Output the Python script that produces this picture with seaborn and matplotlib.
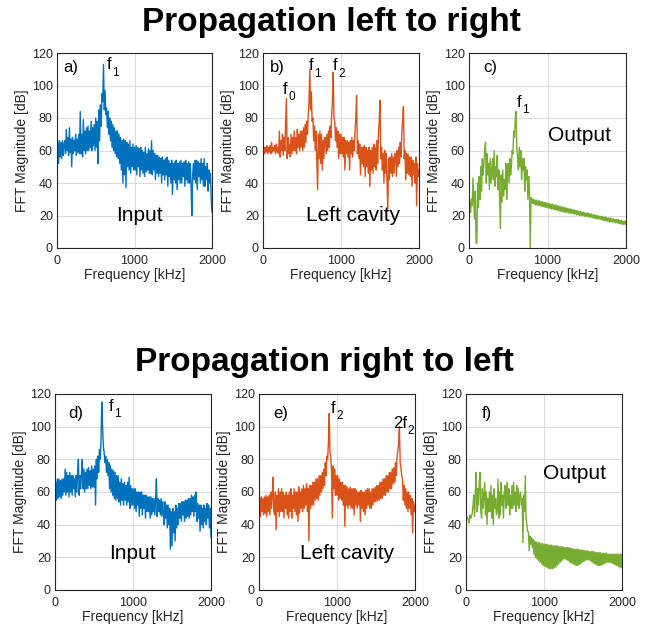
import numpy as np
import seaborn as sns
import matplotlib.pyplot as plt

# frequency grid, 10 kHz steps from 0 to 2000 kHz
freq = np.arange(0, 2001, 10)

# FFT magnitudes [dB], one row per 100 kHz
input_lr = [
    43, 64, 52, 66, 56, 65, 55, 66, 57, 64,
    66, 58, 73, 60, 68, 57, 74, 59, 67, 50,
    68, 58, 66, 60, 70, 57, 67, 59, 70, 58,
    84, 58, 70, 56, 79, 60, 72, 58, 74, 60,
    75, 60, 72, 62, 78, 60, 74, 63, 76, 60,
    80, 62, 78, 52, 85, 66, 88, 75, 95, 90,
    113, 85, 97, 82, 86, 74, 84, 70, 80, 66,
    78, 62, 76, 60, 74, 58, 72, 56, 72, 55,
    70, 52, 68, 48, 66, 40, 67, 45, 66, 37,
    65, 50, 64, 48, 66, 46, 62, 50, 64, 48,
    62, 48, 63, 45, 62, 50, 61, 44, 62, 48,
    60, 46, 59, 44, 62, 47, 58, 48, 61, 46,
    60, 46, 66, 45, 60, 48, 58, 42, 57, 46,
    57, 44, 56, 46, 55, 40, 56, 45, 54, 42,
    55, 45, 56, 38, 54, 44, 52, 40, 54, 33,
    52, 42, 53, 40, 54, 36, 52, 42, 53, 40,
    54, 40, 52, 44, 53, 38, 54, 42, 52, 40,
    53, 40, 52, 38, 20, 44, 52, 42, 54, 40,
    54, 36, 53, 44, 52, 40, 55, 42, 52, 38,
    55, 38, 50, 42, 52, 35, 48, 40, 46, 30,
    22]
cavity_lr = [
    58, 62, 58, 62, 59, 63, 58, 62, 59, 63,
    58, 65, 59, 62, 60, 63, 58, 64, 59, 62,
    58, 72, 56, 66, 60, 70, 57, 68, 60, 75,
    92, 55, 68, 58, 64, 56, 70, 58, 68, 60,
    72, 60, 68, 58, 73, 62, 70, 60, 72, 62,
    72, 60, 74, 62, 76, 65, 78, 70, 82, 90,
    110, 85, 96, 78, 80, 66, 75, 60, 72, 55,
    36, 70, 55, 72, 52, 70, 48, 66, 55, 68,
    68, 58, 70, 60, 72, 62, 75, 68, 82, 90,
    108, 80, 78, 66, 74, 62, 72, 55, 70, 58,
    70, 58, 68, 56, 68, 48, 66, 58, 66, 56,
    65, 48, 66, 58, 68, 56, 66, 60, 72, 80,
    94, 58, 66, 55, 64, 45, 62, 52, 62, 50,
    63, 44, 62, 50, 60, 46, 62, 38, 60, 48,
    62, 46, 64, 50, 62, 48, 66, 52, 70, 78,
    91, 55, 62, 48, 58, 40, 60, 46, 58, 42,
    24, 55, 42, 56, 46, 58, 44, 56, 46, 58,
    58, 44, 60, 50, 62, 52, 65, 56, 72, 78,
    87, 55, 60, 42, 58, 46, 58, 45, 56, 44,
    56, 38, 54, 45, 52, 40, 56, 26, 52, 44,
    48]
output_lr = [
    24, 28, 22, 30, 26, 43, 30, 18, 35, 3,
    3, 40, 25, 44, 30, 50, 35, 55, 45, 52,
    60, 65, 40, 58, 45, 52, 36, 55, 40, 48,
    55, 42, 60, 38, 50, 44, 57, 36, 48, 30,
    12, 45, 28, 48, 32, 42, 36, 52, 30, 45,
    52, 40, 55, 45, 50, 60, 58, 72, 68, 80,
    84, 60, 55, 48, 62, 50, 60, 42, 55, 48,
    55, 35, 50, 42, 48, 30, 44, 36, 0, 31,
    30.5, 27.5, 30, 27, 29.5, 26.5, 29.5, 26.5, 29, 26,
    29, 26, 28.5, 25.5, 28.5, 25.5, 28, 25, 28, 25,
    27.5, 24.5, 27.5, 24.5, 27, 24, 27, 24, 26.5, 23.5,
    26.5, 23.5, 26, 23, 26, 23, 25.5, 22.5, 25.5, 22.5,
    25, 22, 25, 22, 24.5, 22, 24.5, 21.5, 24, 21.5,
    24, 21.5, 23.5, 21, 23.5, 21, 23, 20.5, 23, 20.5,
    22.5, 20, 22.5, 20, 22, 20, 22, 19.5, 21.5, 19.5,
    21.5, 19.5, 21.5, 19, 21, 19, 21, 18.5, 20.5, 18.5,
    20.5, 18, 20, 18, 20, 18, 19.5, 17.5, 19.5, 17.5,
    19.5, 17, 19, 17, 19, 16.5, 18.5, 16.5, 18.5, 16,
    18.5, 16, 18, 16, 18, 16, 17.5, 15.5, 17.5, 15.5,
    17.5, 15, 17, 15, 17, 14.5, 16.5, 14.5, 16.5, 14.5,
    16.5]
input_rl = [
    43, 66, 55, 68, 56, 68, 57, 67, 56, 68,
    58, 68, 60, 74, 58, 72, 60, 70, 57, 72,
    60, 70, 58, 70, 62, 68, 57, 70, 60, 72,
    80, 58, 70, 62, 72, 80, 62, 74, 60, 72,
    62, 74, 62, 75, 64, 73, 62, 76, 63, 74,
    63, 76, 52, 80, 68, 82, 72, 86, 80, 92,
    115, 100, 88, 84, 78, 82, 72, 80, 70, 78,
    62, 76, 60, 74, 58, 73, 56, 72, 55, 70,
    56, 70, 54, 66, 52, 68, 55, 65, 52, 66,
    55, 64, 52, 66, 54, 69, 50, 64, 52, 62,
    52, 62, 50, 62, 48, 60, 52, 60, 45, 60,
    50, 60, 46, 58, 50, 58, 44, 58, 48, 57,
    48, 57, 44, 57, 46, 56, 48, 56, 46, 55,
    68, 45, 56, 48, 55, 46, 56, 45, 54, 48,
    40, 54, 44, 52, 38, 52, 40, 50, 25, 48,
    27, 50, 35, 48, 30, 52, 38, 50, 40, 53,
    44, 53, 42, 54, 46, 54, 42, 55, 44, 55,
    45, 56, 44, 56, 46, 58, 48, 57, 45, 58,
    48, 60, 42, 53, 44, 52, 36, 52, 40, 50,
    38, 52, 42, 50, 40, 53, 44, 52, 38, 50,
    32]
cavity_rl = [
    40, 56, 45, 57, 48, 56, 46, 57, 47, 58,
    45, 57, 48, 58, 46, 60, 50, 58, 69, 48,
    46, 60, 37, 58, 48, 62, 45, 60, 48, 62,
    48, 60, 44, 58, 50, 60, 46, 58, 44, 60,
    48, 62, 44, 58, 50, 62, 48, 60, 46, 60,
    42, 63, 47, 60, 50, 62, 48, 64, 50, 62,
    52, 65, 48, 62, 30, 64, 50, 64, 52, 66,
    52, 66, 55, 68, 56, 68, 55, 70, 58, 70,
    60, 72, 62, 74, 64, 78, 70, 82, 80, 90,
    108, 84, 82, 72, 44, 76, 62, 74, 58, 70,
    58, 70, 55, 68, 56, 66, 55, 66, 52, 64,
    39, 64, 52, 63, 50, 62, 52, 63, 50, 62,
    50, 62, 46, 62, 52, 61, 50, 60, 52, 60,
    42, 61, 50, 60, 48, 60, 46, 61, 50, 62,
    52, 62, 50, 60, 50, 62, 52, 62, 54, 63,
    54, 64, 55, 64, 55, 66, 56, 66, 56, 68,
    58, 68, 58, 70, 60, 70, 60, 72, 62, 72,
    62, 74, 65, 75, 66, 78, 70, 82, 85, 90,
    100, 78, 75, 70, 68, 55, 64, 52, 62, 50,
    60, 48, 60, 50, 58, 46, 56, 35, 54, 48,
    52]
output_rl = [
    45, 45, 44, 43, 41, 46, 44, 45, 47, 52,
    58, 45, 60, 72, 48, 62, 52, 66, 72, 48,
    44, 62, 50, 58, 66, 46, 60, 40, 56, 48,
    60, 48, 64, 44, 58, 40, 62, 50, 56, 46,
    48, 68, 44, 60, 46, 66, 52, 58, 44, 60,
    64, 50, 60, 66, 52, 62, 46, 58, 50, 64,
    50, 66, 52, 60, 48, 64, 52, 62, 50, 58,
    60, 52, 56, 29, 58, 48, 70, 44, 40, 36,
    35, 24, 33, 28, 32, 26, 31, 22, 30, 20,
    29.5, 19, 29, 18, 29, 17, 28.5, 16, 28.5, 15,
    28, 14.5, 28, 14, 28, 13.5, 27.5, 13, 27.5, 13,
    27.5, 13, 27, 13.5, 27, 14, 27, 15, 27, 16,
    26.5, 17, 26.5, 18, 26.5, 19, 26, 19, 26, 18.5,
    26, 18, 26, 17, 25.5, 16.5, 25.5, 16, 25, 15.5,
    25, 15, 25, 15, 25, 15.5, 24.5, 16, 24.5, 17,
    24.5, 17.5, 24, 18, 24, 18.5, 24, 18.5, 23.5, 18,
    23.5, 17.5, 23.5, 16.5, 23.5, 16, 23, 15.5, 23, 15,
    23, 15, 23, 15, 22.5, 15.5, 22.5, 16, 22.5, 16.5,
    22.5, 17, 22, 17, 22, 17, 22, 16.5, 22, 16,
    22, 15.5, 22, 15, 22, 14.5, 22, 14, 22, 13.5,
    22]

blue = '#0072BD'
orange = '#D95319'
green = '#77AC30'

sns.set_style('white')
plt.rcParams['font.family'] = ['Liberation Sans', 'DejaVu Sans']

fig = plt.figure(figsize=(6.62, 6.33), dpi=100)

W = 662
H = 633


def make_axes(left, top, right, bottom):
    return fig.add_axes([left / W, 1 - bottom / H, (right - left) / W, (bottom - top) / H])


# series, colour, panel tag, tag x, peak labels (x, baseline, text, subscript),
# caption, caption pos, axes box in pixels
panels = [
    (input_lr, blue, 'a)', 77, [(645, 110, 'f', '1')], 'Input', (1058, 20), (57, 53, 212, 248)),
    (cavity_lr, orange, 'b)', 90, [(256, 94.8, 'f', '0'), (590, 109.5, 'f', '1'), (897, 109.5, 'f', '2')],
     'Left cavity', (1154, 20), (263, 53, 419, 248)),
    (output_lr, green, 'c)', 178, [(611, 86.8, 'f', '1')], 'Output', (1414, 69.5), (469, 53, 626, 248)),
    (input_rl, blue, 'd)', 166, [(688, 109.6, 'f', '1')], 'Input', (994, 22.6), (55, 394, 211, 590)),
    (cavity_rl, orange, 'e)', 180, [(923, 108.4, 'f', '2'), (1718, 99.2, '2f', '2')],
     'Left cavity', (1128, 22.6), (259, 394, 415, 590)),
    (output_rl, green, 'f)', 205, [], 'Output', (1385, 71.6), (466, 394, 622, 590)),
]

for vals, color, tag, x_tag, notes, caption, cap_pos, box in panels:
    ax = make_axes(*box)
    sns.lineplot(x=freq, y=vals, ax=ax, color=color, linewidth=1.0)
    ax.set_xlim(0, 2000)
    ax.set_ylim(0, 120)
    ax.set_xticks([0, 1000, 2000])
    ax.set_yticks(range(0, 121, 20))
    ax.grid(True, color='#DCDCDC', linewidth=0.8)
    ax.set_axisbelow(True)
    for s in ax.spines.values():
        s.set_visible(True)
        s.set_color('#262626')
        s.set_linewidth(0.8)
    ax.tick_params(direction='in', length=3, labelsize=9, colors='#262626')
    ax.tick_params(axis='x', pad=5)
    ax.tick_params(axis='y', pad=3)
    ax.set_xlabel('Frequency [kHz]', fontsize=10, color='#262626', labelpad=0.5)
    ax.set_ylabel('FFT Magnitude [dB]', fontsize=10, color='#262626', labelpad=2)
    y_tag = 111 if box[1] < 300 else 108
    ax.text(x_tag, y_tag, tag, fontsize=12, ha='left', va='center', color='black')
    for nx, ny, txt, sub in notes:
        t = ax.text(nx, ny, txt, fontsize=12, ha='left', va='baseline', color='black')
        # MATLAB-style subscript: smaller and dropped well below the baseline
        ax.annotate(sub, xy=(1, 0), xycoords=t, xytext=(0.3, -2.5), textcoords='offset points',
                    fontsize=8.5, ha='left', va='baseline', color='black')
    ax.text(cap_pos[0], cap_pos[1], caption, fontsize=15, ha='center', va='center', color='black')

fig.text(331.5 / W, 1 - 31 / H, 'Propagation left to right', fontsize=24, fontweight='bold',
         ha='center', va='baseline', color='black')
fig.text(324 / W, 1 - 371 / H, 'Propagation right to left', fontsize=24, fontweight='bold',
         ha='center', va='baseline', color='black')

fig.savefig('out.png', dpi=100)
